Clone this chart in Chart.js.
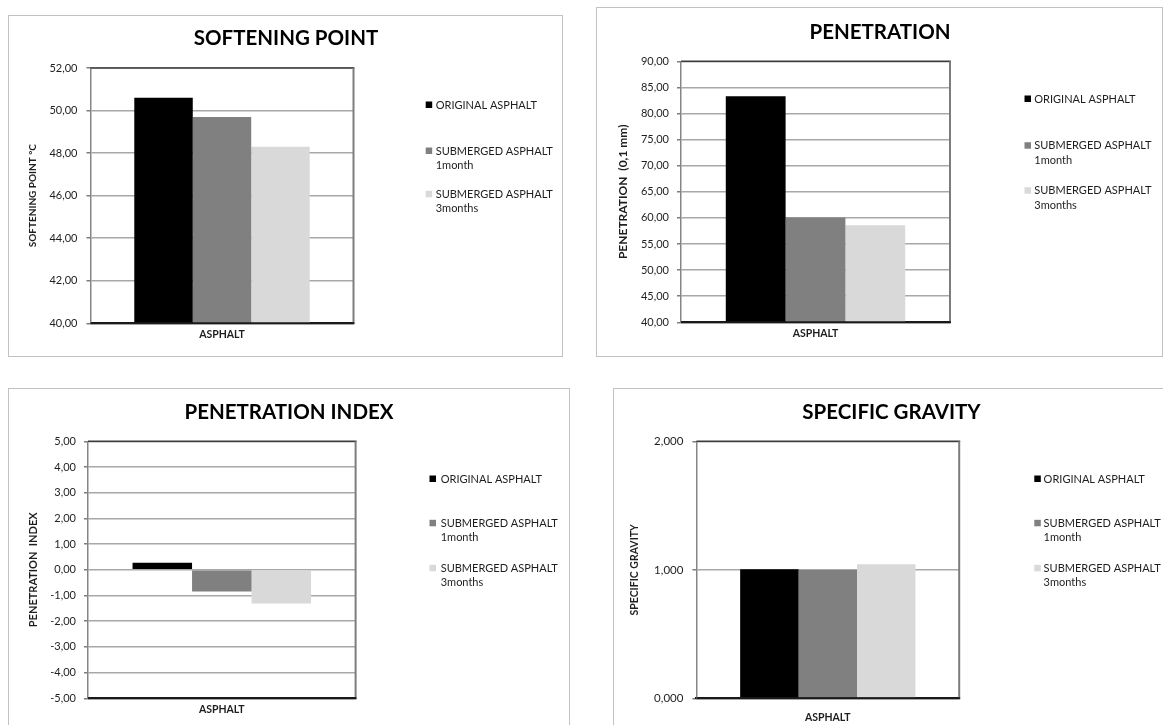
<!DOCTYPE html>
<html>
<head>
<meta charset="utf-8">
<script src="https://cdn.jsdelivr.net/npm/chart.js@4"></script>
<style>
  html, body { margin: 0; padding: 0; background: #ffffff; }
  body { position: relative; width: 1163px; height: 725px; overflow: hidden; }
  .frame { position: absolute; border: 1.5px solid #c2c2c2; box-sizing: border-box; }
  canvas { position: absolute; }
</style>
</head>
<body>
<script>
// Shared category and series
const categories = ['ASPHALT'];
const seriesNames = ['ORIGINAL ASPHALT', 'SUBMERGED ASPHALT 1month', 'SUBMERGED ASPHALT 3months'];
const seriesColors = ['#000000', '#808080', '#d9d9d9'];

// Softening point (°C)
const softeningPoint = [50.6, 49.7, 48.3];
const softeningTicks = ['40,00', '42,00', '44,00', '46,00', '48,00', '50,00', '52,00'];

// Penetration (0,1 mm)
const penetration = [83.3, 60.1, 58.6];
const penetrationTicks = ['40,00', '45,00', '50,00', '55,00', '60,00', '65,00', '70,00', '75,00', '80,00', '85,00', '90,00'];

// Penetration index
const penetrationIndex = [0.27, -0.84, -1.31];
const penetrationIndexTicks = ['-5,00', '-4,00', '-3,00', '-2,00', '-1,00', '0,00', '1,00', '2,00', '3,00', '4,00', '5,00'];

// Specific gravity
const specificGravity = [1.005, 0.999, 1.043];
const specificGravityTicks = ['0,000', '1,000', '2,000'];

const FONT = 'Lato, "Open Sans", sans-serif';
const INK = '#1e1e1e';

// Big centered heading drawn on the canvas
const headline = {
  id: 'headline',
  afterDraw(chart, args, opts) {
    const ctx = chart.ctx;
    ctx.save();
    ctx.font = 'bold ' + opts.size + 'px ' + FONT;
    ctx.fillStyle = '#000';
    ctx.textAlign = 'center';
    ctx.textBaseline = 'middle';
    ctx.fillText(opts.text, opts.x, opts.y);
    ctx.restore();
  }
};

// Legend to the right of the plot, wrapping long names onto a second line
const sideLegend = {
  id: 'sideLegend',
  afterDraw(chart, args, opts) {
    const ctx = chart.ctx;
    ctx.save();
    ctx.font = opts.size + 'px ' + FONT;
    ctx.textBaseline = 'middle';
    ctx.textAlign = 'left';
    chart.data.datasets.forEach((ds, i) => {
      const y = opts.y + opts.offsets[i];
      ctx.fillStyle = ds.backgroundColor;
      ctx.fillRect(opts.boxX, y - 3.5, 6.5, 6.5);
      const words = ds.label.split(' ');
      const lines = [];
      let cur = '';
      words.forEach(w => {
        const test = cur ? cur + ' ' + w : w;
        if (cur && ctx.measureText(test).width > opts.maxWidth) { lines.push(cur); cur = w; }
        else cur = test;
      });
      lines.push(cur);
      ctx.fillStyle = INK;
      lines.forEach((ln, k) => ctx.fillText(ln, opts.textX, y + k * opts.lineHeight));
    });
    ctx.restore();
  }
};

// Top, right and bottom edges of the plot box
const plotFrame = {
  id: 'plotFrame',
  afterDatasetsDraw(chart) {
    const {ctx, chartArea: a} = chart;
    ctx.save();
    ctx.lineCap = 'butt';
    ctx.strokeStyle = '#3c3c3c';
    ctx.lineWidth = 1.5;
    ctx.beginPath(); ctx.moveTo(a.left, a.top); ctx.lineTo(a.right + 1, a.top); ctx.stroke();
    ctx.strokeStyle = '#7c7c7c';
    ctx.lineWidth = 2;
    ctx.beginPath(); ctx.moveTo(a.right, a.top); ctx.lineTo(a.right, a.bottom); ctx.stroke();
    ctx.strokeStyle = '#1a1a1a';
    ctx.beginPath(); ctx.moveTo(a.left, a.bottom); ctx.lineTo(a.right + 1, a.bottom); ctx.stroke();
    ctx.restore();
  }
};

function panel(p) {
  const frame = document.createElement('div');
  frame.className = 'frame';
  Object.assign(frame.style, {
    left: p.frame.l + 'px', top: p.frame.t + 'px',
    width: (p.frame.r - p.frame.l) + 'px', height: (p.frame.b - p.frame.t) + 'px'
  });
  document.body.appendChild(frame);

  const c = p.canvas;
  const cv = document.createElement('canvas');
  cv.width = c.r - c.l;
  cv.height = c.b - c.t;
  cv.style.left = c.l + 'px';
  cv.style.top = c.t + 'px';
  cv.style.width = cv.width + 'px';
  cv.style.height = cv.height + 'px';
  document.body.appendChild(cv);

  const plot = p.plot;
  const lo = parseFloat(p.ticks[0].replace(',', '.'));
  const hi = parseFloat(p.ticks[p.ticks.length - 1].replace(',', '.'));
  const step = parseFloat(p.ticks[1].replace(',', '.')) - lo;

  return new Chart(cv, {
    type: 'bar',
    data: {
      labels: categories,
      datasets: seriesNames.map((name, i) => ({
        label: name,
        data: [p.values[i]],
        backgroundColor: seriesColors[i],
        borderWidth: 0,
        categoryPercentage: 0.667,
        barPercentage: 1.0
      }))
    },
    options: {
      responsive: false,
      animation: false,
      devicePixelRatio: 1,
      layout: { padding: { left: 0, top: plot.t - c.t, right: c.r - plot.r, bottom: 0 } },
      plugins: {
        legend: { display: false },
        tooltip: { enabled: false },
        title: { display: false },
        headline: { text: p.title, x: p.titleX - c.l, y: p.titleY - c.t, size: 20.5 },
        sideLegend: {
          boxX: p.legend.box - c.l, textX: p.legend.text - c.l, y: p.legend.y - c.t,
          offsets: p.legend.offsets, lineHeight: 14.5, size: 11, maxWidth: 128
        }
      },
      scales: {
        x: {
          grid: { display: false, drawTicks: false },
          border: { display: true, color: '#1a1a1a', width: 2 },
          ticks: { font: { family: FONT, size: 10.5, weight: 'bold' }, color: INK, padding: p.xPad },
          afterFit: s => { s.height = c.b - plot.b; }
        },
        y: {
          min: lo, max: hi,
          ticks: {
            stepSize: step,
            autoSkip: false,
            callback: (v, i) => p.ticks[i],
            font: { family: FONT, size: p.tickSize },
            color: INK,
            padding: p.yPad
          },
          grid: { color: '#a8a8a8', lineWidth: 1.5, tickLength: 4, tickColor: '#7c7c7c', tickWidth: 1.5 },
          border: { color: '#858585', width: 1.5 },
          title: {
            display: true, text: p.yTitle,
            font: { family: FONT, size: p.yTitleSize, weight: 'bold' },
            color: INK,
            padding: { top: (p.yTitleX - c.l) - p.yTitleSize * 0.6, bottom: 0 }
          },
          afterFit: s => { s.width = plot.l - c.l; }
        }
      }
    },
    plugins: [plotFrame, headline, sideLegend]
  });
}

panel({
  frame: { l: 8, t: 15, r: 563, b: 357 },
  canvas: { l: 8, t: 15, r: 563, b: 357 },
  plot: { l: 90.5, t: 68, r: 353.5, b: 323.3 },
  title: 'SOFTENING POINT', titleX: 286, titleY: 38,
  yTitle: 'SOFTENING POINT °C', yTitleX: 32.6, yTitleSize: 10,
  values: softeningPoint, ticks: softeningTicks, tickSize: 11, yPad: 9, xPad: 5,
  legend: { box: 425.7, text: 435.7, y: 105, offsets: [0, 46, 89.3] }
});

panel({
  frame: { l: 596, t: 7, r: 1163, b: 357 },
  canvas: { l: 596, t: 7, r: 1162, b: 357 },
  plot: { l: 681, t: 61.3, r: 950, b: 322.3 },
  title: 'PENETRATION', titleX: 880, titleY: 32,
  yTitle: 'PENETRATION  (0,1 mm)', yTitleX: 623.5, yTitleSize: 12,
  values: penetration, ticks: penetrationTicks, tickSize: 11, yPad: 8, xPad: 5,
  legend: { box: 1024.5, text: 1034.3, y: 99, offsets: [0, 46.7, 91.7] }
});

panel({
  frame: { l: 8, t: 388, r: 570, b: 770 },
  canvas: { l: 8, t: 388, r: 570, b: 725 },
  plot: { l: 88, t: 441.3, r: 355.6, b: 698.3 },
  title: 'PENETRATION INDEX', titleX: 289, titleY: 412,
  yTitle: 'PENETRATION  INDEX', yTitleX: 33.3, yTitleSize: 11,
  values: penetrationIndex, ticks: penetrationIndexTicks, tickSize: 11, yPad: 8, xPad: 5,
  legend: { box: 429.5, text: 440.7, y: 479, offsets: [0, 44.3, 89.3] }
});

panel({
  frame: { l: 613, t: 388, r: 1200, b: 770 },
  canvas: { l: 613, t: 388, r: 1163, b: 725 },
  plot: { l: 696.4, t: 441.3, r: 959.2, b: 698.3 },
  title: 'SPECIFIC GRAVITY', titleX: 891.5, titleY: 412,
  yTitle: 'SPECIFIC GRAVITY', yTitleX: 635, yTitleSize: 10.5,
  values: specificGravity, ticks: specificGravityTicks, tickSize: 11.5, yPad: 9, xPad: 13,
  legend: { box: 1034.3, text: 1043.6, y: 479, offsets: [0, 44.3, 89.3] }
});
</script>
</body>
</html>
